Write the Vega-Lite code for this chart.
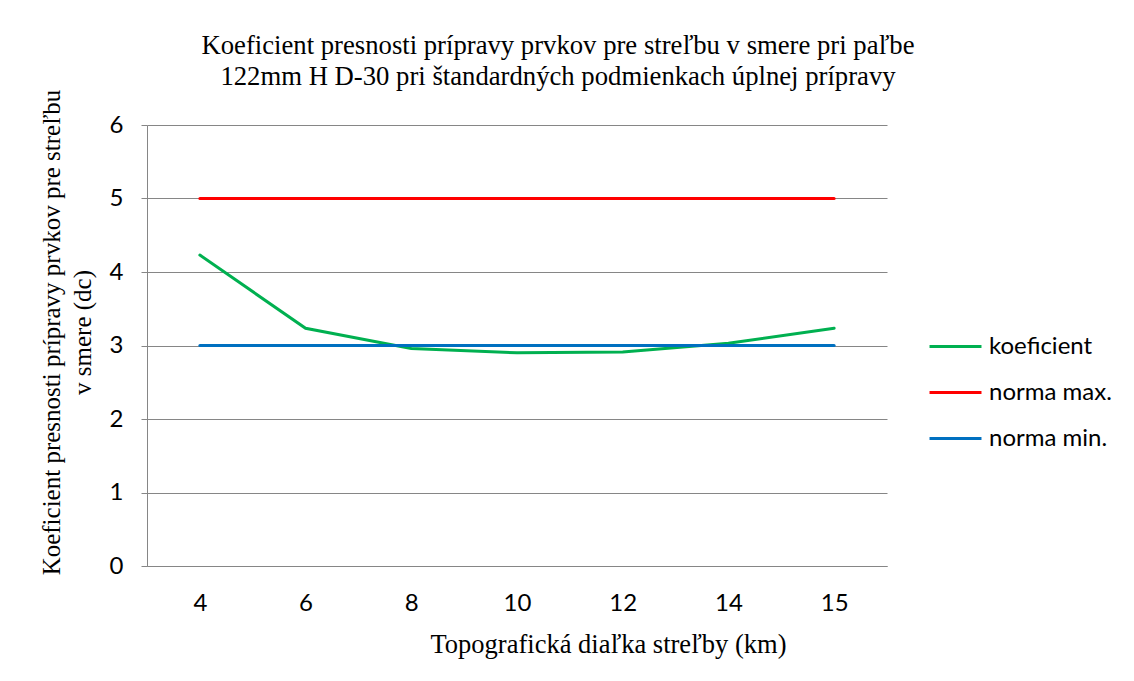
{
  "$schema": "https://vega.github.io/schema/vega-lite/v6.json",
  "autosize": {"type": "none"},
  "padding": {"left": 147, "top": 125, "right": 247, "bottom": 115},
  "width": 740,
  "height": 441,
  "background": "white",
  "title": {
    "text": ["Koeficient presnosti prípravy prvkov pre streľbu v smere pri paľbe", "122mm H D-30 pri štandardných podmienkach úplnej prípravy"],
    "font": "Liberation Serif",
    "fontSize": 26.7,
    "fontWeight": "normal",
    "color": "#000000",
    "anchor": "middle",
    "frame": "group",
    "dx": 41,
    "offset": -2,
    "lineHeight": 31
  },
  "data": {
    "values": [
      {"d": 4, "v": 4.23, "s": "koeficient"},
      {"d": 6, "v": 3.235, "s": "koeficient"},
      {"d": 8, "v": 2.96, "s": "koeficient"},
      {"d": 10, "v": 2.9, "s": "koeficient"},
      {"d": 12, "v": 2.91, "s": "koeficient"},
      {"d": 14, "v": 3.03, "s": "koeficient"},
      {"d": 15, "v": 3.235, "s": "koeficient"},
      {"d": 4, "v": 5, "s": "norma max."},
      {"d": 6, "v": 5, "s": "norma max."},
      {"d": 8, "v": 5, "s": "norma max."},
      {"d": 10, "v": 5, "s": "norma max."},
      {"d": 12, "v": 5, "s": "norma max."},
      {"d": 14, "v": 5, "s": "norma max."},
      {"d": 15, "v": 5, "s": "norma max."},
      {"d": 4, "v": 3, "s": "norma min."},
      {"d": 6, "v": 3, "s": "norma min."},
      {"d": 8, "v": 3, "s": "norma min."},
      {"d": 10, "v": 3, "s": "norma min."},
      {"d": 12, "v": 3, "s": "norma min."},
      {"d": 14, "v": 3, "s": "norma min."},
      {"d": 15, "v": 3, "s": "norma min."}
    ]
  },
  "mark": {"type": "line", "strokeWidth": 3, "strokeCap": "round"},
  "encoding": {
    "x": {
      "field": "d",
      "type": "ordinal",
      "scale": {"type": "point", "padding": 0.5},
      "axis": {
        "title": "Topografická diaľka streľby (km)",
        "titleFont": "Liberation Serif",
        "titleFontSize": 26.5,
        "titleFontWeight": "normal",
        "titleColor": "#000000",
        "titlePadding": 16,
        "titleX": 461,
        "labelFont": "Lato",
        "labelFontSize": 24,
        "labelColor": "#000000",
        "labelAngle": 0,
        "labelPadding": 25,
        "ticks": false,
        "domainColor": "#868686",
        "grid": false
      }
    },
    "y": {
      "field": "v",
      "type": "quantitative",
      "scale": {"domain": [0, 6]},
      "axis": {
        "title": ["Koeficient presnosti prípravy prvkov pre streľbu", "v smere (dc)"],
        "titleFont": "Liberation Serif",
        "titleFontSize": 25,
        "titleFontWeight": "normal",
        "titleColor": "#000000",
        "titlePadding": 14,
        "titleLineHeight": 31,
        "titleY": 207,
        "labelFont": "Lato",
        "labelFontSize": 24,
        "labelColor": "#000000",
        "labelPadding": 18,
        "values": [0, 1, 2, 3, 4, 5, 6],
        "labelOverlap": false,
        "tickColor": "#868686",
        "tickSize": 6,
        "domainColor": "#868686",
        "gridColor": "#868686",
        "gridWidth": 1
      }
    },
    "color": {
      "field": "s",
      "type": "nominal",
      "scale": {"domain": ["koeficient", "norma max.", "norma min."], "range": ["#00B050", "#FF0000", "#0070C0"]},
      "legend": {
        "title": null,
        "orient": "none",
        "legendX": 781,
        "legendY": 194,
        "symbolType": "stroke",
        "symbolSize": 2700,
        "symbolStrokeWidth": 3,
        "labelFont": "Lato",
        "labelFontSize": 24,
        "labelColor": "#000000",
        "rowPadding": 6,
        "labelOffset": 6
      }
    }
  },
  "config": {
    "view": {"stroke": null}
  }
}
